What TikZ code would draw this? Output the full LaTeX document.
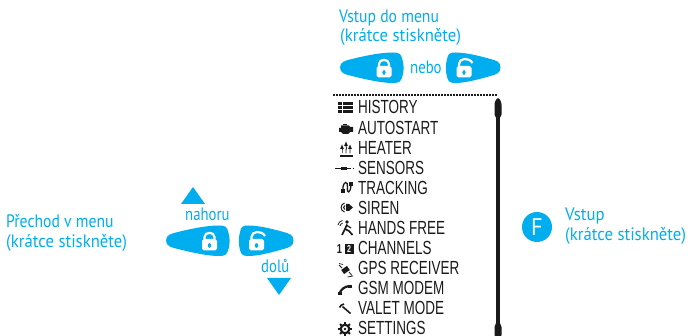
\documentclass[tikz,border=0pt]{standalone}
\usepackage{fontspec}
\usetikzlibrary{calc}
\setmainfont{Liberation Sans}
\newfontfamily\menufont[FakeStretch=0.71]{Liberation Sans}
\newfontfamily\bluefont[FakeStretch=0.93]{PT Sans}
\newfontfamily\bluenarrow[FakeStretch=0.82]{PT Sans}
\newfontfamily\bluemiddle[FakeStretch=0.87]{PT Sans}
\definecolor{cy}{HTML}{00AEEF}
\definecolor{ink}{HTML}{1A1A1A}
\tikzset{
  x=1pt,y=-1pt,
  menuitem/.style={anchor=base west,inner sep=0pt,text=ink,font=\menufont\fontsize{19}{19}\selectfont},
  bluetext/.style={anchor=base west,inner sep=0pt,text=cy,font=\bluefont\fontsize{18}{18}\selectfont},
  bluetight/.style={bluetext,font=\bluenarrow\fontsize{18}{18}\selectfont},
  bluemid/.style={bluetext,font=\bluemiddle\fontsize{18}{18}\selectfont},
  btnbody/.pic={
    \fill[cy] (0,15.5) .. controls (0,10) and (5,8.5) .. (12,7)
      .. controls (28,3) and (42,0.5) .. (53,0.5)
      .. controls (60,0.5) and (61,2) .. (62.5,8)
      .. controls (64,13) and (64,19) .. (62.5,24)
      .. controls (61,29) and (60,31) .. (53,31)
      .. controls (42,31) and (28,28) .. (12,24)
      .. controls (5,22.5) and (0,21) .. (0,15.5) -- cycle;
  },
  btnmirror/.pic={
    \fill[cy] (55,15.5) .. controls (55,10) and (51,8.5) .. (45,7)
      .. controls (31,3) and (19,0.5) .. (9.5,0.5)
      .. controls (3.5,0.5) and (2.5,2) .. (1.3,8)
      .. controls (0,13) and (0,19) .. (1.3,24)
      .. controls (2.5,29) and (3.5,31) .. (9.5,31)
      .. controls (19,31) and (31,28) .. (45,24)
      .. controls (51,22.5) and (55,21) .. (55,15.5) -- cycle;
  },
  lockshut/.pic={
    \fill[white,rounded corners=1.8pt] (-7.5,-5) rectangle (7.5,6.5);
    \draw[white,line width=2.2pt] (-5,-5) -- (-5,-7) .. controls (-5,-12.5) and (5,-12.5) .. (5,-7) -- (5,-5);
    \fill[cy] (0,1.5) ellipse (1.6 and 2.4);
  },
  lockfree/.pic={
    \fill[white,rounded corners=1.8pt] (-7.5,-5) rectangle (7.5,6.5);
    \draw[white,line width=2.2pt] (-5,-5) -- (-5,-7) .. controls (-5,-13) and (5,-14) .. (8.5,-8);
    \fill[cy] (0,1.5) ellipse (1.6 and 2.4);
  }
}
\begin{document}
\begin{tikzpicture}
\useasboundingbox (0,0) rectangle (688,336);
% blue labels
\node[bluemid] (t1) at (339,23) {Vstup do menu};
\node[bluetext] (t2) at (340,42) {(krátce stiskněte)};
\node[bluetight] (t3) at (410,74) {nebo};
\node[bluemid] (t4) at (6,228) {Přechod v menu};
\node[bluetext] (t5) at (6,248) {(krátce stiskněte)};
\node[bluetight] (t6) at (185,221) {nahoru};
\node[bluetight] (t7) at (261,273) {dolů};
\node[bluetext] (t8) at (565,221) {Vstup};
\node[bluetext] (t9) at (565,241) {(krátce stiskněte)};
% top buttons
\pic at (340,52) {btnbody};
\pic at (384,71) {lockshut};
\pic at (445.5,52) {btnmirror};
\pic at (464,71) {lockfree};
% lower buttons
\pic at (166,225) {btnbody};
\pic at (209.5,244) {lockshut};
\pic at (238.5,225) {btnmirror};
\pic at (256.5,244) {lockfree};
% triangles
\fill[cy] (193,187) -- (205,204) -- (181,204) -- cycle;
\fill[cy] (267,278) -- (291,278) -- (279,295) -- cycle;
% F circle
\node[circle,fill=cy,minimum size=30pt,inner sep=0pt,text=white,font=\bluefont\fontsize{24}{24}\selectfont] (F) at (537,227) {F};
% scrollbar and dots
\draw[ink,line width=1.6pt,dash pattern=on 1.5pt off 1.5pt] (333,95) -- (498,95);
\draw[ink,line width=3.4pt] (498,100) -- (498,336);
\fill[ink,rounded corners=2.5pt] (494.5,117) -- (494.5,102) -- (498,97) -- (501.5,102) -- (501.5,117) -- (498,118) -- cycle;
\fill[ink,rounded corners=2pt] (494.5,337) -- (494.5,325) -- (498,321) -- (501.5,325) -- (501.5,337) -- cycle;
% menu
\node[menuitem] (m1) at (358,114) {HISTORY};
\node[menuitem] (m2) at (358,134.5) {AUTOSTART};
\node[menuitem] (m3) at (358,154.5) {HEATER};
\node[menuitem] (m4) at (358,174.5) {SENSORS};
\node[menuitem] (m5) at (358,194.5) {TRACKING};
\node[menuitem] (m6) at (358,214.5) {SIREN};
\node[menuitem] (m7) at (358,234.5) {HANDS FREE};
\node[menuitem] (m8) at (358,254.5) {CHANNELS};
\node[menuitem] (m9) at (358,275) {GPS RECEIVER};
\node[menuitem] (m10) at (358,295) {GSM MODEM};
\node[menuitem] (m11) at (358,315) {VALET MODE};
\node[menuitem] (m12) at (358,335) {SETTINGS};
% history icon
\foreach \yy in {102.5,106.5,110.5}{
  \fill[ink] (338,\yy) rectangle (341.5,\yy+2.6);
  \fill[ink] (343,\yy) rectangle (352.5,\yy+2.6);
}
% autostart icon (engine)
\fill[ink] (341,125.5) -- (349,125.5) -- (350,127) -- (353,127) -- (353,132) -- (350,132) -- (348,134) -- (343,134) -- (341,132) -- (339,132) -- (339,128) -- (341,128) -- cycle;
\fill[ink] (343,124) rectangle (347,125.5);
% heater icon
\foreach \xx/\tp in {342/146,346/143,350/146}{
  \draw[ink,line width=.9pt] (\xx,153.5) .. controls (\xx-1.3,151) and (\xx+1.3,150) .. (\xx,\tp+2);
  \fill[ink] (\xx-1.9,\tp+3) -- (\xx,\tp-1.5) -- (\xx+1.9,\tp+3) -- cycle;
}
\draw[ink,line width=1.2pt] (340,156) -- (352.5,156);
% sensors icon
\draw[ink,line width=1.2pt] (335,168.5) -- (341,168.5);
\fill[ink] (341,166.8) rectangle (347,170.2);
\draw[ink,line width=1pt] (347,168.5) -- (351,168.5);
\fill[ink] (353.5,168.5) circle (0.7);
% tracking icon
\draw[ink,line width=1.3pt] (343,190) .. controls (342.5,180) and (348.5,181) .. (347.5,187) .. controls (346.5,194) and (350.5,194) .. (351,185);
\fill[ink] (341,189) rectangle (344.5,193.5);
\fill[ink] (349,182) rectangle (353,186);
% siren icon
\fill[ink] (346,204) -- (349,204) -- (353,207.5) -- (349,211) -- (346,211) -- cycle;
\draw[ink,line width=1pt] (344.5,203) .. controls (340,204.5) and (340,210.5) .. (344.5,212);
\draw[ink,line width=1pt] (345,205.5) .. controls (343,206.5) and (343,208.5) .. (345,209.5);
% hands free icon
\fill[ink] (347,222) circle (1.8);
\draw[ink,line width=1.7pt] (347,224.5) -- (345,229) -- (342,235);
\draw[ink,line width=1.7pt] (345,229) -- (349,231) -- (352.5,235);
\draw[ink,line width=1.2pt] (347,225.5) -- (351,228);
\draw[ink,line width=.7pt] (338,225) .. controls (338.5,222.5) and (340,221) .. (342.5,220.5);
\draw[ink,line width=.7pt] (340,226) .. controls (340.5,224.5) and (341,223.5) .. (342.8,223);
% channels icon
\fill[ink] (345,244) rectangle (353.5,254);
\node[inner sep=0pt,text=white,font=\menufont\bfseries\fontsize{10}{10}\selectfont] (c2) at (349.2,249) {2};
\node[inner sep=0pt,text=ink,font=\menufont\bfseries\fontsize{13}{13}\selectfont] (c1) at (339.5,249) {1};
% gps icon
\fill[ink,rotate around={35:(345.5,270)}] (342,267.5) rectangle (349,272.5);
\draw[ink,line width=.8pt] (339,265) -- (342,268);
\draw[ink,line width=.8pt] (349,272) -- (352,275.5);
\draw[ink,line width=.7pt] (339,263.5) -- (343,264.5);
\draw[ink,line width=.7pt] (347.5,277) -- (353,276);
% gsm icon
\draw[ink,line width=2.2pt,line cap=round] (339.5,294) .. controls (340.5,289.5) and (344.5,286.5) .. (349.5,286);
\fill[ink] (338,292) rectangle (341.5,295.5);
\fill[ink] (348,285) rectangle (351.5,288.5);
% valet icon
\draw[ink,line width=1.6pt] (342.5,306.5) -- (350.5,313.5);
\draw[ink,line width=1.6pt] (339.5,307.5) .. controls (340.5,305.5) and (341.5,304.5) .. (344,304);
% settings icon
\draw[ink,line width=2.2pt] (345,329) circle (4.3);
\foreach \a in {0,45,...,315}{
  \draw[ink,line width=2pt] ($(345,329)+(\a:5)$) -- ($(345,329)+(\a:7)$);
}
\fill[ink] (345,329) circle (1.4);
\end{tikzpicture}
\end{document}
